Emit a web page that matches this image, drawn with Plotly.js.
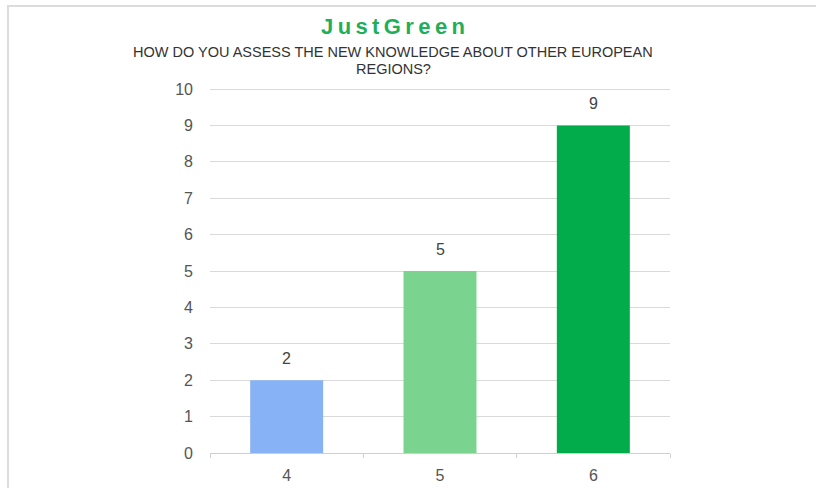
<!DOCTYPE html>
<html>
<head>
<meta charset="utf-8">
<script src="https://cdn.plot.ly/plotly-3.0.1.min.js"></script>
<style>
html,body{margin:0;padding:0;background:#fff;}
#wrap{position:relative;width:816px;height:488px;overflow:hidden;}
#chart{position:absolute;left:0;top:0;width:816px;height:488px;}
#frame{position:absolute;left:7px;top:5px;width:820px;height:500px;border-top:2px solid #dcdcdc;border-left:2px solid #dcdcdc;pointer-events:none;}
</style>
</head>
<body>
<div id="wrap"><div id="chart"></div><div id="frame"></div></div>
<script>
const categories = ["4", "5", "6"];
const counts = [2, 5, 9];
const barColors = ["#87b2f6", "#7ad48f", "#02ac4a"];
const yTicks = [0, 1, 2, 3, 4, 5, 6, 7, 8, 9, 10];
const mainTitle = "JustGreen";
const subTitleLines = ["HOW DO YOU ASSESS THE NEW KNOWLEDGE ABOUT OTHER EUROPEAN", "REGIONS?"];

const font = "Liberation Sans, Arial, sans-serif";
const spaced = mainTitle.split("").join("\u2009");

const trace = {
  type: "bar",
  x: categories,
  y: counts,
  marker: {color: barColors, line: {width: 0}},
  width: 0.476,
  hoverinfo: "none"
};

const labelAnns = categories.map((c, i) => ({
  x: i, y: counts[i], xref: "x", yref: "y",
  text: String(counts[i]), showarrow: false,
  yanchor: "middle", yshift: 22,
  font: {family: font, size: 16, color: "#444"}
}));

const layout = {
  width: 816, height: 488,
  margin: {l: 210, r: 146, t: 88, b: 35},
  paper_bgcolor: "#fff", plot_bgcolor: "#fff",
  showlegend: false,
  xaxis: {
    type: "category",
    range: [-0.5, 2.5],
    showgrid: false,
    showline: true, linecolor: "#cfcfcf", linewidth: 1,
    ticks: "outside", tickson: "boundaries", ticklen: 4, tickcolor: "#cfcfcf",
    tickfont: {family: font, size: 16, color: "#555"},
    ticklabelstandoff: 8,
    zeroline: false, fixedrange: true
  },
  yaxis: {
    range: [0, 10.03],
    tickvals: yTicks,
    showgrid: true, gridcolor: "#dadada", gridwidth: 1,
    zeroline: false, showline: false,
    ticks: "",
    tickfont: {family: font, size: 16, color: "#555"},
    ticklabelstandoff: 16,
    fixedrange: true
  },
  annotations: [
    {x: 0.398, y: 1.168, xref: "paper", yref: "paper", showarrow: false,
     text: "<b>" + spaced + "</b>", yanchor: "middle", xanchor: "center",
     font: {family: font, size: 22, color: "#1fae5a"}},
    {x: 0.398, y: 1.099, xref: "paper", yref: "paper", showarrow: false,
     text: subTitleLines[0], yanchor: "middle", xanchor: "center",
     font: {family: font, size: 14.5, color: "#333"}},
    {x: 0.398, y: 1.052, xref: "paper", yref: "paper", showarrow: false,
     text: subTitleLines[1], yanchor: "middle", xanchor: "center",
     font: {family: font, size: 14.5, color: "#333"}}
  ].concat(labelAnns)
};

Plotly.newPlot("chart", [trace], layout, {displayModeBar: false, staticPlot: true});
</script>
</body>
</html>
